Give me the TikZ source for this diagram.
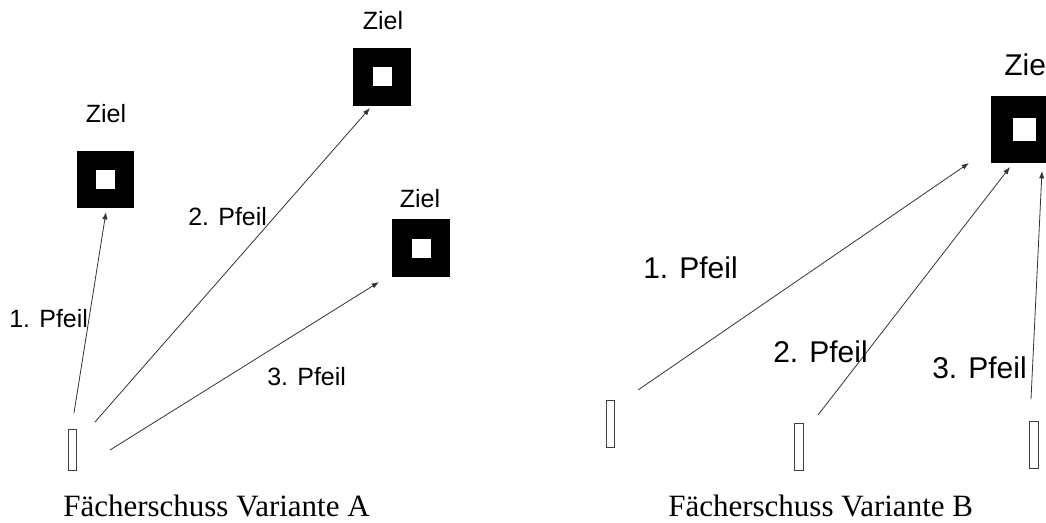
\documentclass[tikz,border=0pt]{standalone}
\usepackage{fontspec}
\setmainfont{Liberation Serif}
\setsansfont{Liberation Sans}
\usetikzlibrary{arrows.meta}
\begin{document}
\begin{tikzpicture}[x=0.75pt,y=-0.75pt,
  outer/.style={draw=none,fill=black,inner sep=0pt,minimum size=#1},
  inner/.style={draw=none,fill=white,inner sep=0pt,minimum size=#1},
  shooter/.style={draw=black!75,line width=0.6pt,fill=white,inner sep=0pt,minimum width=#1},
  shot/.style={draw=black!80,line width=0.6pt,-{Latex[length=5.5pt,width=4pt]}},
  lblA/.style={font=\sffamily\fontsize{18.75pt}{20pt}\selectfont,anchor=base west,inner sep=0pt},
  lblB/.style={font=\sffamily\fontsize{22.5pt}{24pt}\selectfont,anchor=base west,inner sep=0pt},
  zielA/.style={font=\sffamily\fontsize{18.75pt}{20pt}\selectfont,anchor=base,inner sep=0pt},
  captext/.style={font=\rmfamily\fontsize{23.25pt}{25pt}\selectfont,anchor=base west,inner sep=0pt}]
\useasboundingbox (0,0) rectangle (1046,522);
\fill[white] (0,0) rectangle (1046,522);

% ---------- Variante A ----------
\node[outer=42.75pt] (t1) at (105.5,179) {};
\node[inner=14.25pt] (t1i) at (t1.center) {};
\node[outer=43.5pt] (t2) at (382,76.5) {};
\node[inner=14.25pt] (t2i) at (t2.center) {};
\node[outer=43.5pt] (t3) at (421,248) {};
\node[inner=14.25pt] (t3i) at (t3.center) {};

\node[zielA] (z1) at (106,122) {Ziel};
\node[zielA] (z2) at (383,29) {Ziel};
\node[zielA] (z3) at (420,207) {Ziel};

\node[shooter=6pt,minimum height=30.75pt] (sA) at (72,449.5) {};

\coordinate (a1s) at (74,413);
\coordinate (a1e) at (106,212);
\coordinate (a2s) at (95,422);
\coordinate (a2e) at (370,108);
\coordinate (a3s) at (110,450);
\coordinate (a3e) at (379,282);
\draw[shot] (a1s) -- (a1e);
\draw[shot] (a2s) -- (a2e);
\draw[shot] (a3s) -- (a3e);

\node[lblA] (p1) at (9,327) {1. Pfeil};
\node[lblA] (p2) at (188,225) {2. Pfeil};
\node[lblA] (p3) at (267,385) {3. Pfeil};

\node[captext] (capA) at (63,516) {Fächerschuss Variante A};

% ---------- Variante B ----------
\node[outer=50.25pt] (tB) at (1024.5,129.5) {};
\node[inner=17.25pt] (tBi) at (tB.center) {};
\node[lblB] (zB) at (1004,75) {Ziel};

\node[shooter=6pt,minimum height=35.25pt] (sB1) at (610,423.5) {};
\node[shooter=6.75pt,minimum height=35.25pt] (sB2) at (798.5,446.5) {};
\node[shooter=6.75pt,minimum height=35.25pt] (sB3) at (1033.5,444.5) {};

\coordinate (b1s) at (638,390);
\coordinate (b1e) at (969,163);
\coordinate (b2s) at (818,415);
\coordinate (b2e) at (1010,167);
\coordinate (b3s) at (1031,399);
\coordinate (b3e) at (1042,171);
\draw[shot] (b1s) -- (b1e);
\draw[shot] (b2s) -- (b2e);
\draw[shot] (b3s) -- (b3e);

\node[lblB] (q1) at (643,278) {1. Pfeil};
\node[lblB] (q2) at (773,362) {2. Pfeil};
\node[lblB] (q3) at (932,378) {3. Pfeil};

\node[captext] (capB) at (668,516) {Fächerschuss Variante B};
\end{tikzpicture}
\end{document}
